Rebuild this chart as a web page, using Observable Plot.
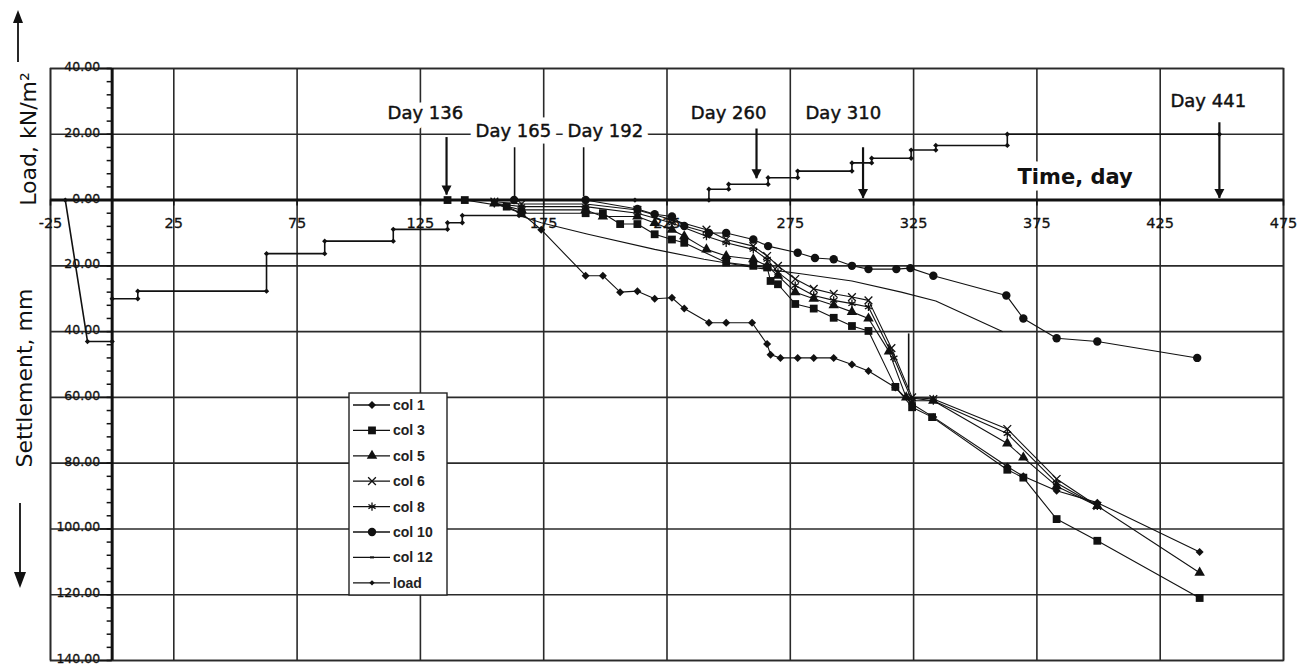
<!DOCTYPE html>
<html><head><meta charset="utf-8">
<script src="https://cdn.jsdelivr.net/npm/d3@7"></script>
<script src="https://cdn.jsdelivr.net/npm/@observablehq/plot@0.6"></script>
<style>
html,body{margin:0;padding:0;background:#fff;}
#wrap{position:relative;width:1309px;height:666px;}
#wrap svg.ov{position:absolute;left:0;top:0;pointer-events:none;}
</style></head><body><div id="wrap"></div>
<script>
// ---------- axis ticks ----------
const xTicks = [-25, 25, 75, 125, 175, 225, 275, 325, 375, 425, 475];
const yTicks = [40, 20, 0, -20, -40, -60, -80, -100, -120, -140];

// ---------- series (day, settlement mm / load kN/m2) ----------
const col1Day    = [155,166,174,192,199,206,213,220,227,232,242,249,259.5,265.6,267,271,278,284.5,292.6,300,306.7,317.6,324.4,333,363,369.5,383,399.5,441];
const col1Value  = [-1,-4,-9,-23,-23,-28,-27.7,-30,-29.7,-33,-37.3,-37.3,-37.3,-43.8,-47,-48,-48,-48,-48,-50,-52,-57,-62,-66,-81,-84,-88.4,-92,-107];
const col3Day    = [136,143,160,166,192,199,206,213,220,227,232,249,260,265.6,267,270,277,284.5,292.6,300,306.7,317.6,324.4,332.5,363,369.5,383,399.5,441];
const col3Value  = [0,0,-2,-4,-4,-4,-7.3,-7.3,-10.4,-12,-13,-19,-20,-20.5,-24.6,-25.6,-31.6,-33,-35.8,-38.3,-39.8,-56.8,-63,-66,-82,-84.4,-97,-103.6,-121];
const col5Day    = [155,166,192,199,213,220,227,232,241,249,260,265.6,270,277,284.5,292.6,300,306.7,315,322,333,363,369.5,383,399.5,441];
const col5Value  = [-1,-3,-3,-5,-5,-7,-9,-11,-15,-17,-18,-20,-23,-28,-30,-32,-34,-36,-46,-60,-61,-74,-78.3,-87,-93,-113.3];
const col6Day    = [155,166,192,213,227,241,249,260,265.6,270,277,284.5,292.6,300,306.7,316,324.4,333,363,383,399.5];
const col6Value  = [-0.5,-1.2,-1.2,-3,-6,-9,-12,-14,-17,-20,-24,-27,-28.5,-29.5,-30.5,-45,-60,-60.5,-69.6,-84.8,-93];
const col8Day    = [155,166,192,213,227,241,249,260,265.6,270,277,284.5,292.6,300,306.7,317,324.4,333,363,383,399.5];
const col8Value  = [-1,-2,-2,-4,-7,-11,-13,-15,-18,-22,-26,-29,-30.5,-31.5,-32.5,-48,-61,-61,-71,-86,-93];
const col10Day   = [163,192,213,220,227,232,242,249,260,266,278,285,292.6,300,306.7,318,323.7,333,362.6,369.5,383,399.5,440];
const col10Value = [0,0,-2.7,-4.3,-5,-7.9,-10,-10,-12,-14,-16,-17.6,-18,-20,-21,-21,-20.7,-23,-29,-36,-42,-43,-48];
const col12Day   = [165,174,193,220,240,260,280,300,320,334,361];
const col12Value = [-4.7,-6.9,-10.4,-15,-18,-20.5,-22.5,-24.6,-28,-30.7,-40];
const loadDay    = [136,163,192,212,242,242,250,250,266,266,278,278,300,300,308,308,324,324,334,334,363,363,449];
const loadValue  = [0,0,0,0,0,3.3,3.3,4.8,4.8,6.8,6.8,8.8,8.8,11.3,11.3,12.7,12.7,15.2,15.2,16.6,16.6,20,20];
const fillDay    = [-19,-10,0,0,10.4,10.4,62.6,62.6,86.2,86.2,114,114,136,136,142,142,165];
const fillValue  = [0,-43,-43,-30,-30,-27.7,-27.7,-16.3,-16.3,-12.5,-12.5,-8.9,-8.9,-6.9,-6.9,-4.7,-4.7];

// ---------- annotations ----------
const noteText  = ["Day 136","Day 165","Day 192","Day 260","Day 310","Day 441"];
const noteDay   = [127, 162.7, 200, 250, 296.5, 444.5];
const noteLevel = [26.5, 21, 21, 26.5, 26.5, 30.1];
const markDay    = [135.6, 163.2, 191.2, 261.3, 304.5, 449, 323];
const markTop    = [19, 15.9, 15.9, 21.6, 15.9, 23.5, -40.7];
const markBottom = [1.5, 1, 1, 6.5, 0.5, 0.5, -58];
const markHead   = [true, false, false, true, true, true, false];
const axisCaption = ["Time, day"];
const axisCaptionDay = [390.5];
const axisCaptionLevel = [6.8];

const legendNames = ["col 1","col 3","col 5","col 6","col 8","col 10","col 12","load"];

// ---------- build tables ----------
const seriesList = [
  ["col 1", col1Day, col1Value], ["col 3", col3Day, col3Value], ["col 5", col5Day, col5Value],
  ["col 6", col6Day, col6Value], ["col 8", col8Day, col8Value], ["col 10", col10Day, col10Value],
  ["col 12", col12Day, col12Value], ["load", loadDay, loadValue], ["load fill", fillDay, fillValue]
];
const rows = seriesList.flatMap(([name, ds, vs]) => ds.map((d, i) => ({series: name, day: d, value: vs[i]})));
const notes = noteText.map((t, i) => ({text: t, day: noteDay[i], level: noteLevel[i]}));
const marks = markDay.map((d, i) => ({day: d, top: markTop[i], bottom: markBottom[i], head: markHead[i]}));
const caption = axisCaption.map((t, i) => ({text: t, day: axisCaptionDay[i], level: axisCaptionLevel[i]}));

const sym = {
  "col 1":  {symbol: "diamond2", r: 3.6, fill: "#111"},
  "col 3":  {symbol: "square", r: 4.4, fill: "#111"},
  "col 5":  {symbol: "triangle", r: 3.9, fill: "#111"},
  "col 6":  {symbol: "times", r: 3.6, stroke: "#111"},
  "col 8":  {symbol: "asterisk", r: 3.9, stroke: "#111"},
  "col 10": {symbol: "circle", r: 4.2, fill: "#111"},
  "load":   {symbol: "diamond2", r: 2.4, fill: "#111"},
  "load fill": {symbol: "diamond2", r: 2.4, fill: "#111"}
};
const downHead = {draw(ctx, size) { const r = Math.sqrt(size / Math.PI); ctx.moveTo(-r, -1.9 * r); ctx.lineTo(r, -1.9 * r); ctx.lineTo(0, 0); ctx.closePath(); }};

const dotMarks = Object.entries(sym).map(([name, s]) =>
  Plot.dot(rows.filter(d => d.series === name), {x: "day", y: "value", symbol: s.symbol, r: s.r,
    fill: s.fill || "none", stroke: s.stroke || "none", strokeWidth: s.stroke ? 1.3 : 0}));

const fmt = v => Math.abs(v).toFixed(2);
const grid = "#2a2a2a";
const noteFont = {fontSize: 18, fontFamily: "DejaVu Sans"};
const capFont = {fontSize: 21, fontWeight: "bold", fontFamily: "DejaVu Sans"};

const chart = Plot.plot({
  width: 1309, height: 666,
  marginTop: 68, marginRight: 26, marginBottom: 6, marginLeft: 50,
  x: {domain: [-25, 475], axis: null},
  y: {domain: [-140, 40], axis: null},
  style: {background: "white", color: "#111"},
  marks: [
    Plot.ruleX(xTicks, {stroke: grid, strokeWidth: 1.6}),
    Plot.ruleY(yTicks, {stroke: grid, strokeWidth: 1.6}),
    Plot.frame({stroke: grid, strokeWidth: 1.6}),
    Plot.text(notes, {x: "day", y: "level", text: "text", ...noteFont,
      fill: "white", stroke: "white", strokeWidth: 13, strokeLinejoin: "round"}),
    Plot.text(notes, {x: "day", y: "level", text: "text", ...noteFont,
      fill: "#111", stroke: "#111", strokeWidth: 0.45}),
    Plot.text(caption, {x: "day", y: "level", text: "text", ...capFont,
      fill: "white", stroke: "white", strokeWidth: 13, strokeLinejoin: "round"}),
    Plot.text(caption, {x: "day", y: "level", text: "text", ...capFont, fill: "#111"}),
    Plot.ruleY([0], {stroke: "#111", strokeWidth: 3}),
    Plot.ruleX([0], {stroke: "#111", strokeWidth: 3}),
    Plot.ruleY(d3.range(-140, 41, 4), {x1: 0, x2: 0, insetLeft: -5, stroke: "#111", strokeWidth: 1.5}),
    Plot.ruleY(yTicks, {x1: 0, x2: 0, insetLeft: -12, stroke: "#111", strokeWidth: 1.5}),
    Plot.ruleX(xTicks, {y1: 0, y2: 0, insetBottom: -6, stroke: "#111", strokeWidth: 1.5}),
    Plot.text(yTicks, {x: 0, y: d => d, text: fmt, dx: -12, dy: -1.5, textAnchor: "end", fontSize: 12.5,
      fontFamily: "DejaVu Sans", fill: "#111", stroke: "#111", strokeWidth: 0.3}),
    Plot.text(xTicks, {x: d => d, y: 0, dy: 23, text: d => String(d), fontSize: 14.5,
      fontFamily: "DejaVu Sans", fill: "#111", stroke: "#111", strokeWidth: 0.3}),
    Plot.line(rows, {x: "day", y: "value", z: "series", stroke: "#111",
      strokeWidth: d => (d.series.startsWith("load") ? 1.6 : 1.1)}),
    ...dotMarks,
    Plot.ruleX(marks, {x: "day", y1: "top", y2: "bottom", stroke: "#111", strokeWidth: d => d.head ? 2.2 : 1.6}),
    Plot.dot(marks.filter(d => d.head), {x: "day", y: "bottom", symbol: downHead, r: 5, fill: "#111"})
  ]
});

const wrap = document.getElementById("wrap");
wrap.appendChild(chart);

// ---------- overlay: axis titles, arrows, legend ----------
const ov = d3.select(wrap).append("svg").attr("class", "ov").attr("width", 1309).attr("height", 666);
ov.append("text").attr("transform", "translate(36,139) rotate(-90)").attr("text-anchor", "middle")
  .attr("font-family", "DejaVu Sans").attr("font-size", 22).attr("fill", "#111").text("Load, kN/m²");
ov.append("text").attr("transform", "translate(32,378) rotate(-90)").attr("text-anchor", "middle")
  .attr("font-family", "DejaVu Sans").attr("font-size", 22).attr("fill", "#111").text("Settlement, mm");
ov.append("line").attr("x1", 18).attr("x2", 18).attr("y1", 62).attr("y2", 20).attr("stroke", "#111").attr("stroke-width", 1.8);
ov.append("path").attr("d", "M13,23L23,23L18,10Z").attr("fill", "#111");
ov.append("line").attr("x1", 20).attr("x2", 20).attr("y1", 503).attr("y2", 574).attr("stroke", "#111").attr("stroke-width", 1.8);
ov.append("path").attr("d", "M14,572L26,572L20,588Z").attr("fill", "#111");

const lg = ov.append("g").attr("transform", "translate(349,393)");
lg.append("rect").attr("width", 98).attr("height", 202).attr("fill", "white").attr("stroke", "#222").attr("stroke-width", 1.4);
const d3sym = {circle: d3.symbolCircle, square: d3.symbolSquare, triangle: d3.symbolTriangle,
  times: d3.symbolTimes, asterisk: d3.symbolAsterisk, diamond2: d3.symbolDiamond2};
legendNames.forEach((name, i) => {
  const y = 12 + i * 25.4;
  const g = lg.append("g").attr("transform", `translate(0,${y})`);
  g.append("line").attr("x1", 4).attr("x2", 41).attr("y1", 0).attr("y2", 0).attr("stroke", "#111").attr("stroke-width", 1.3);
  const s = sym[name];
  if (s) {
    g.append("path").attr("transform", "translate(23,0)")
      .attr("d", d3.symbol(d3sym[s.symbol], Math.PI * s.r * s.r)())
      .attr("fill", s.fill || "none").attr("stroke", s.stroke || "none").attr("stroke-width", 1.3);
  } else {
    g.append("line").attr("x1", 21).attr("x2", 25).attr("y1", 0).attr("y2", 0).attr("stroke", "#111").attr("stroke-width", 2);
  }
  g.append("text").attr("x", 44).attr("y", 0).attr("dy", "0.35em").attr("font-family", "Liberation Sans")
    .attr("font-size", 14).attr("font-weight", "bold").attr("fill", "#222").text(name);
});
</script></body></html>
